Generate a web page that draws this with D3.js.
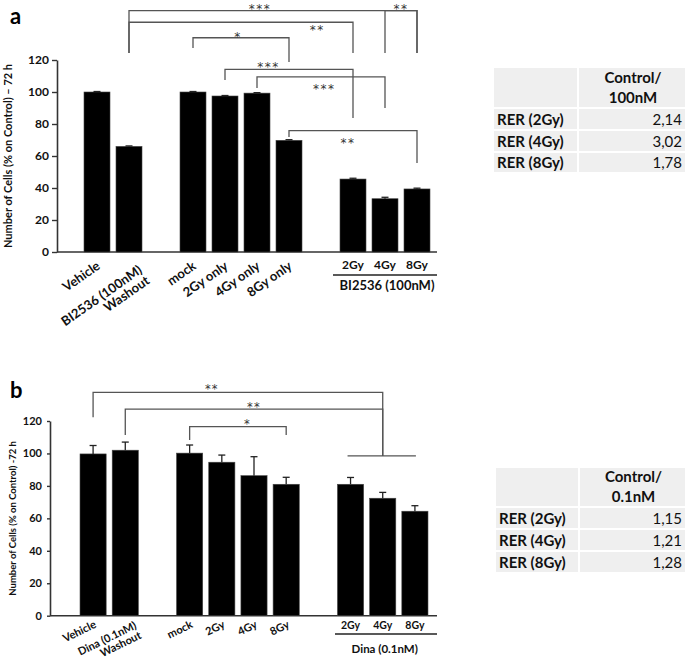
<!DOCTYPE html>
<html><head><meta charset="utf-8">
<script src="https://cdn.jsdelivr.net/npm/d3@7/dist/d3.min.js"></script>
<style>body{margin:0;background:#fff}svg{display:block;font-family:Lato,"Open Sans",sans-serif}</style>
</head><body>
<svg id="c" width="685" height="661"></svg>
<script>
// ---------- DATA ----------
const catsA = ["Vehicle", "BI2536 (100nM)|Washout", "mock", "2Gy only", "4Gy only", "8Gy only", "2Gy", "4Gy", "8Gy"];
const groupsA = [0, 0, 1, 1, 1, 1, 2, 2, 2];
const valuesA = [100, 66, 100, 97.5, 99.3, 69.8, 45.6, 33.3, 39.4];
const errA = [0.3, 0.3, 0.3, 0.3, 0.3, 0.4, 0.5, 0.9, 0.5];
const groupLabelA = "BI2536 (100nM)";
const ticksA = [0, 20, 40, 60, 80, 100, 120];
const yLabelA = "Number of Cells (% on Control) \u2013 72 h";
// brackets: from cat index, to cat index, level, left leg end, right leg end, label, text x fraction, text level
const bracketsA = [
  {a: 1, b: 8, y: 150.8, ya: 124.4, yb: 124.4, t: "***", tx: 0.455, ty: 153.2},
  {a: 7, b: 8, y: 150.8, ya: 124.4, yb: 124.4, t: "**", tx: 0.5, ty: 153.2},
  {a: 1, b: 6, y: 143.6, ya: 124.4, yb: 124.4, t: "**", tx: 0.84, ty: 140.6},
  {a: 2, b: 5, y: 133.9, ya: 127.5, yb: 118.8, t: "*", tx: 0.47, ty: 136.3},
  {a: 3, b: 6, y: 114.2, ya: 107.5, yb: 83.8, t: "***", tx: 0.34, ty: 117.5},
  {a: 4, b: 7, y: 109.4, ya: 102.5, yb: 90.0, t: "***", tx: 0.525, ty: 103.6},
  {a: 5, b: 8, y: 75.8, ya: 71.9, yb: 55.6, t: "**", tx: 0.46, ty: 69.6}
];
const tableA = {head: ["Control/", "100nM"], rows: [["RER (2Gy)", "2,14"], ["RER (4Gy)", "3,02"], ["RER (8Gy)", "1,78"]]};

const catsB = ["Vehicle", "Dina (0.1nM)|Washout", "mock", "2Gy", "4Gy", "8Gy", "2Gy", "4Gy", "8Gy"];
const groupsB = [0, 0, 1, 1, 1, 1, 2, 2, 2];
const valuesB = [99.7, 102, 100.2, 94.6, 86.3, 81, 81, 72.4, 64.4];
const errB = [5.2, 5, 5, 4.4, 11.7, 4.3, 4.2, 3.6, 3.4];
const groupLabelB = "Dina (0.1nM)";
const ticksB = [0, 20, 40, 60, 80, 100, 120];
const yLabelB = "Number of Cells (% on Control) -72 h";
const bracketsB = [
  {a: 0, b: 7, y: 137.7, ya: 122.3, yb: 98.5, t: "**", tx: 0.41, ty: 141},
  {a: 1, b: 7, y: 127.3, ya: 111.4, yb: 98.5, t: "**", tx: 0.5, ty: 130.2},
  {a: 2, b: 5, y: 116.5, ya: 108.3, yb: 111.4, t: "*", tx: 0.6, ty: 119.6}
];
const groupLineB = {a: 6, b: 8, y: 98.5};
const tableB = {head: ["Control/", "0.1nM"], rows: [["RER (2Gy)", "1,15"], ["RER (4Gy)", "1,21"], ["RER (8Gy)", "1,28"]]};

// ---------- DRAW ----------
const svg = d3.select("#c");
const LINE = "#555";

function panel(o) {
  const g = svg.append("g");
  const slots = o.cats.map((c, i) => i + o.groups[i]);
  const x = d3.scaleBand().domain(d3.range(11)).range(o.xr).paddingInner(0.1875).paddingOuter(0.09375);
  const y = d3.scaleLinear().domain([0, 120]).range(o.yr);
  const cx = i => x(slots[i]) + x.bandwidth() / 2;

  // y axis
  const ax = d3.axisLeft(y).tickValues(o.ticks).tickSize(o.tick).tickPadding(o.pad).tickSizeOuter(0);
  const ga = g.append("g").attr("transform", `translate(${o.ax},0)`).call(ax);
  ga.select(".domain").attr("stroke", "#333").attr("stroke-width", 1.6);
  ga.selectAll(".tick line").attr("stroke", "#333").attr("stroke-width", 1.4);
  ga.selectAll(".tick text").attr("fill", "#111").attr("font-weight", "bold").attr("font-size", o.tickFs)
    .attr("font-family", "Lato");
  // x axis baseline
  g.append("line").attr("x1", o.ax).attr("x2", o.xEnd).attr("y1", y(0)).attr("y2", y(0))
    .attr("stroke", "#333").attr("stroke-width", 1.6);

  // bars
  g.selectAll("rect.bar").data(o.vals).join("rect").attr("class", "bar")
    .attr("x", (d, i) => x(slots[i])).attr("width", x.bandwidth())
    .attr("y", d => y(d)).attr("height", d => y(0) - y(d)).attr("fill", "#000")
    .attr("stroke", "#444").attr("stroke-width", 0.6);
  // error bars (upper)
  o.vals.forEach((v, i) => {
    const c = cx(i);
    g.append("line").attr("x1", c).attr("x2", c).attr("y1", y(v)).attr("y2", y(v + o.err[i]))
      .attr("stroke", "#222").attr("stroke-width", 1.3);
    g.append("line").attr("x1", c - 3.5).attr("x2", c + 3.5).attr("y1", y(v + o.err[i])).attr("y2", y(v + o.err[i]))
      .attr("stroke", "#222").attr("stroke-width", 1.3);
  });

  // rotated category labels (groups 0 and 1)
  o.cats.forEach((c, i) => {
    if (o.groups[i] === 2) return;
    const lines = c.split("|");
    const t = g.append("text").attr("transform", `translate(${cx(i) + o.lx + (lines.length > 1 ? o.lx2 : 0)},${o.ly + (lines.length > 1 ? o.ly2 : 0)}) rotate(${o.rot})`)
      .attr("text-anchor", "end").attr("font-weight", "bold").attr("font-size", o.lfs).attr("fill", "#111");
    lines.forEach((l, k) => t.append("tspan").attr("x", 0).attr("dy", k === 0 ? 0 : "1.0em").text(l));
  });
  // group labels
  o.cats.forEach((c, i) => {
    if (o.groups[i] !== 2) return;
    g.append("text").attr("x", cx(i)).attr("y", o.gy).attr("text-anchor", "middle")
      .attr("font-weight", "bold").attr("font-size", o.gfs).attr("fill", "#111").text(c);
  });
  g.append("line").attr("x1", o.glx[0]).attr("x2", o.glx[1]).attr("y1", o.gly).attr("y2", o.gly)
    .attr("stroke", "#222").attr("stroke-width", 1.3);
  g.append("text").attr("x", (cx(6) + cx(8)) / 2 + 2).attr("y", o.gty).attr("text-anchor", "middle")
    .attr("font-weight", "bold").attr("font-size", o.gtfs).attr("fill", "#111").text(o.glabel);

  // brackets
  o.brackets.forEach(b => {
    const x1 = cx(b.a), x2 = cx(b.b);
    g.append("path").attr("d", `M${x1},${y(b.ya)}V${y(b.y)}H${x2}V${y(b.yb)}`)
      .attr("fill", "none").attr("stroke", LINE).attr("stroke-width", 1.3);
    g.append("text").attr("x", x1 + (x2 - x1) * b.tx).attr("y", y(b.ty)).attr("dy", "0.55em")
      .attr("text-anchor", "middle").attr("font-size", o.sfs).attr("letter-spacing", o.sls)
      .attr("font-family", "DejaVu Sans").attr("fill", "#333").text(b.t);
  });
  if (o.groupLine) {
    const gl = o.groupLine;
    g.append("line").attr("x1", cx(gl.a) - 3).attr("x2", cx(gl.b) + 1).attr("y1", y(gl.y)).attr("y2", y(gl.y))
      .attr("stroke", LINE).attr("stroke-width", 1.3);
  }

  // y label
  g.append("text").attr("transform", `translate(${o.ylx},${(o.yr[0] + o.yr[1]) / 2}) rotate(-90)`)
    .attr("text-anchor", "middle").attr("font-weight", "bold").attr("font-size", o.ylfs).attr("fill", "#111")
    .text(o.ylabel);
  // panel letter
  g.append("text").attr("x", 10).attr("y", o.letterY).attr("font-weight", "bold").attr("font-size", 22)
    .attr("fill", "#000").text(o.letter);
}

panel({cats: catsA, groups: groupsA, vals: valuesA, err: errA, ticks: ticksA, brackets: bracketsA,
  xr: [81, 433], yr: [252, 60], ax: 57, xEnd: 437, tick: 5, pad: 3, tickFs: 12,
  lx: 4, ly: 268, lx2: 10, ly2: 4, rot: -35, lfs: 13,
  gy: 269, gfs: 12, gtfs: 13, glx: [333, 437], gly: 275, gty: 290, glabel: groupLabelA,
  sfs: 12, sls: 1.5, ylx: 12, ylfs: 11, ylabel: yLabelA, letter: "a", letterY: 24});

panel({cats: catsB, groups: groupsB, vals: valuesB, err: errB, ticks: ticksB, brackets: bracketsB, groupLine: groupLineB,
  xr: [77, 431], yr: [615.7, 421], ax: 50, xEnd: 437, tick: 3, pad: 5, tickFs: 11,
  lx: 4, ly: 627, lx2: 8, ly2: 1, rot: -26, lfs: 11,
  gy: 629, gfs: 10.5, gtfs: 11.5, glx: [335, 437], gly: 634, gty: 653, glabel: groupLabelB,
  sfs: 11.5, sls: 1.2, ylx: 16, ylfs: 9.5, ylabel: yLabelB, letter: "b", letterY: 398});

// tables
function table(t, x0, xd, x1, ys) {
  const g = svg.append("g");
  const rowsY = ys; // boundaries
  for (let r = 0; r < rowsY.length - 1; r++) {
    [[x0, xd], [xd, x1]].forEach(([a, b]) => {
      g.append("rect").attr("x", a + 1).attr("y", rowsY[r] + 1).attr("width", b - a - 2).attr("height", rowsY[r + 1] - rowsY[r] - 2)
        .attr("fill", "#efefef");
    });
  }
  const hc = (xd + x1) / 2 + 1;
  const hm = (rowsY[0] + rowsY[1]) / 2;
  g.append("text").attr("x", hc).attr("y", hm - 5).attr("text-anchor", "middle").attr("font-weight", "bold")
    .attr("font-size", 15).attr("fill", "#111").text(t.head[0]);
  g.append("text").attr("x", hc).attr("y", hm + 15).attr("text-anchor", "middle").attr("font-weight", "bold")
    .attr("font-size", 15).attr("fill", "#111").text(t.head[1]);
  t.rows.forEach((r, i) => {
    const m = (rowsY[i + 1] + rowsY[i + 2]) / 2 + 5.5;
    g.append("text").attr("x", x0 + 4).attr("y", m).attr("font-weight", "bold").attr("font-size", 15)
      .attr("fill", "#111").text(r[0]);
    g.append("text").attr("x", x1 - 4).attr("y", m).attr("text-anchor", "end").attr("font-size", 15)
      .attr("fill", "#111").text(r[1]);
  });
}
table(tableA, 493, 578, 686, [67, 108, 130, 152, 173]);
table(tableB, 495, 579, 686, [467, 507, 529, 551, 573]);
</script>
</body></html>
